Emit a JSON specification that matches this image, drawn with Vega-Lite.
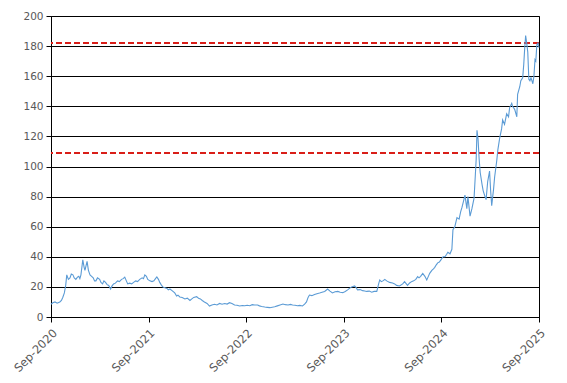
{
  "$schema": "https://vega.github.io/schema/vega-lite/v6.json",
  "width": 488,
  "height": 301,
  "autosize": "none",
  "padding": {"left": 51, "top": 16, "right": 28, "bottom": 66},
  "background": "white",
  "config": {
    "view": {"stroke": "black", "strokeWidth": 1},
    "axis": {"labelFont": "DejaVu Sans", "labelFontSize": 10.5, "labelColor": "#595959", "domainColor": "black", "tickColor": "black", "gridColor": "black", "gridWidth": 1, "gridOpacity": 1, "tickSize": 5, "domainWidth": 1, "tickWidth": 1, "labelOverlap": false}
  },
  "datasets": {
    "price": [
      {"d":"2020-09-01","v":8.5},{"d":"2020-09-08","v":9.5},{"d":"2020-09-16","v":10},{"d":"2020-09-24","v":9.2},{"d":"2020-10-04","v":10},{"d":"2020-10-10","v":11},{"d":"2020-10-15","v":13},{"d":"2020-10-21","v":16},{"d":"2020-10-26","v":21},{"d":"2020-10-30","v":28},{"d":"2020-11-05","v":25},{"d":"2020-11-11","v":26},{"d":"2020-11-16","v":28.5},{"d":"2020-11-22","v":28},{"d":"2020-11-27","v":26},{"d":"2020-12-03","v":25},{"d":"2020-12-09","v":26.5},{"d":"2020-12-14","v":27},{"d":"2020-12-18","v":25.5},{"d":"2020-12-22","v":28},{"d":"2020-12-29","v":38},{"d":"2021-01-03","v":33},{"d":"2021-01-06","v":31},{"d":"2021-01-10","v":34},{"d":"2021-01-14","v":37},{"d":"2021-01-19","v":31},{"d":"2021-01-25","v":28},{"d":"2021-01-31","v":27},{"d":"2021-02-06","v":26},{"d":"2021-02-11","v":24},{"d":"2021-02-16","v":24},{"d":"2021-02-22","v":26},{"d":"2021-03-02","v":25},{"d":"2021-03-07","v":23},{"d":"2021-03-13","v":22},{"d":"2021-03-18","v":24},{"d":"2021-03-24","v":23},{"d":"2021-03-30","v":21.5},{"d":"2021-04-05","v":21},{"d":"2021-04-12","v":18.6},{"d":"2021-04-17","v":20.5},{"d":"2021-04-23","v":22},{"d":"2021-04-30","v":22.5},{"d":"2021-05-08","v":24},{"d":"2021-05-15","v":23.5},{"d":"2021-05-23","v":25},{"d":"2021-05-29","v":25.5},{"d":"2021-06-04","v":26.5},{"d":"2021-06-10","v":24},{"d":"2021-06-15","v":22},{"d":"2021-06-22","v":22.5},{"d":"2021-06-30","v":22},{"d":"2021-07-07","v":23},{"d":"2021-07-15","v":24},{"d":"2021-07-22","v":23.5},{"d":"2021-07-30","v":25},{"d":"2021-08-08","v":26},{"d":"2021-08-13","v":25.5},{"d":"2021-08-18","v":28},{"d":"2021-08-24","v":27},{"d":"2021-08-29","v":25},{"d":"2021-09-06","v":24},{"d":"2021-09-14","v":23.5},{"d":"2021-09-21","v":24},{"d":"2021-09-27","v":25.5},{"d":"2021-10-02","v":26.6},{"d":"2021-10-08","v":25},{"d":"2021-10-13","v":23},{"d":"2021-10-18","v":21.5},{"d":"2021-10-24","v":20},{"d":"2021-11-01","v":19.5},{"d":"2021-11-09","v":19},{"d":"2021-11-14","v":18},{"d":"2021-11-20","v":18.6},{"d":"2021-11-28","v":17.5},{"d":"2021-12-08","v":16},{"d":"2021-12-15","v":14},{"d":"2021-12-20","v":14.5},{"d":"2021-12-27","v":13.3},{"d":"2022-01-05","v":13},{"d":"2022-01-15","v":12},{"d":"2022-01-24","v":12.5},{"d":"2022-02-03","v":11},{"d":"2022-02-10","v":12},{"d":"2022-02-17","v":13},{"d":"2022-02-28","v":13.5},{"d":"2022-03-07","v":12.5},{"d":"2022-03-14","v":12},{"d":"2022-03-21","v":11},{"d":"2022-03-29","v":10},{"d":"2022-04-08","v":9},{"d":"2022-04-17","v":7.3},{"d":"2022-04-26","v":8},{"d":"2022-05-06","v":8.5},{"d":"2022-05-15","v":8},{"d":"2022-05-25","v":9},{"d":"2022-06-03","v":8.5},{"d":"2022-06-13","v":9},{"d":"2022-06-22","v":8.6},{"d":"2022-07-01","v":9.5},{"d":"2022-07-10","v":9},{"d":"2022-07-20","v":8},{"d":"2022-07-29","v":7.8},{"d":"2022-08-08","v":7.3},{"d":"2022-08-18","v":7.6},{"d":"2022-08-27","v":7.5},{"d":"2022-09-05","v":7.8},{"d":"2022-09-15","v":7.5},{"d":"2022-09-24","v":8.2},{"d":"2022-10-03","v":8},{"d":"2022-10-14","v":8},{"d":"2022-10-21","v":7.4},{"d":"2022-10-29","v":7},{"d":"2022-11-10","v":6.6},{"d":"2022-11-19","v":6.4},{"d":"2022-11-29","v":6.2},{"d":"2022-12-08","v":6.5},{"d":"2022-12-17","v":6.8},{"d":"2022-12-27","v":7.4},{"d":"2023-01-06","v":8},{"d":"2023-01-17","v":8.6},{"d":"2023-01-26","v":8.2},{"d":"2023-02-05","v":8},{"d":"2023-02-14","v":8.4},{"d":"2023-02-22","v":8},{"d":"2023-03-03","v":7.8},{"d":"2023-03-12","v":7.5},{"d":"2023-03-21","v":7.7},{"d":"2023-03-31","v":7.3},{"d":"2023-04-08","v":8.5},{"d":"2023-04-15","v":10},{"d":"2023-04-21","v":13},{"d":"2023-04-26","v":14.6},{"d":"2023-05-05","v":14.2},{"d":"2023-05-15","v":15},{"d":"2023-05-24","v":15.5},{"d":"2023-06-03","v":16},{"d":"2023-06-12","v":16.5},{"d":"2023-06-22","v":17},{"d":"2023-07-03","v":18.6},{"d":"2023-07-12","v":17.2},{"d":"2023-07-21","v":16},{"d":"2023-07-31","v":16.8},{"d":"2023-08-10","v":17},{"d":"2023-08-19","v":16.5},{"d":"2023-08-29","v":16.2},{"d":"2023-09-07","v":17},{"d":"2023-09-16","v":18},{"d":"2023-09-23","v":19},{"d":"2023-10-01","v":20},{"d":"2023-10-12","v":20.6},{"d":"2023-10-18","v":19.5},{"d":"2023-10-23","v":18},{"d":"2023-11-02","v":18.2},{"d":"2023-11-11","v":17.5},{"d":"2023-11-19","v":17.3},{"d":"2023-11-26","v":17},{"d":"2023-12-06","v":17.2},{"d":"2023-12-15","v":16.5},{"d":"2023-12-24","v":17},{"d":"2024-01-03","v":17},{"d":"2024-01-10","v":22},{"d":"2024-01-14","v":24.6},{"d":"2024-01-20","v":23.5},{"d":"2024-01-26","v":24},{"d":"2024-02-02","v":25},{"d":"2024-02-09","v":24},{"d":"2024-02-20","v":23},{"d":"2024-03-02","v":22.6},{"d":"2024-03-10","v":22},{"d":"2024-03-17","v":21},{"d":"2024-03-28","v":20.6},{"d":"2024-04-09","v":22},{"d":"2024-04-16","v":23.5},{"d":"2024-04-27","v":21},{"d":"2024-05-05","v":22.6},{"d":"2024-05-12","v":23.5},{"d":"2024-05-20","v":24},{"d":"2024-05-28","v":25},{"d":"2024-06-04","v":26.8},{"d":"2024-06-09","v":26},{"d":"2024-06-15","v":27},{"d":"2024-06-23","v":29},{"d":"2024-07-01","v":27},{"d":"2024-07-08","v":24.6},{"d":"2024-07-14","v":27},{"d":"2024-07-19","v":29},{"d":"2024-07-27","v":31},{"d":"2024-08-02","v":32},{"d":"2024-08-07","v":33},{"d":"2024-08-12","v":34.5},{"d":"2024-08-18","v":36},{"d":"2024-08-24","v":36.5},{"d":"2024-08-30","v":38},{"d":"2024-09-07","v":40},{"d":"2024-09-14","v":40},{"d":"2024-09-20","v":41.5},{"d":"2024-09-25","v":43},{"d":"2024-10-03","v":42},{"d":"2024-10-10","v":45},{"d":"2024-10-14","v":58},{"d":"2024-10-21","v":60},{"d":"2024-10-29","v":66},{"d":"2024-11-06","v":65},{"d":"2024-11-12","v":70},{"d":"2024-11-17","v":73},{"d":"2024-11-24","v":78},{"d":"2024-11-28","v":81},{"d":"2024-12-05","v":72},{"d":"2024-12-09","v":80},{"d":"2024-12-17","v":67},{"d":"2024-12-24","v":72},{"d":"2025-01-01","v":79},{"d":"2025-01-06","v":95},{"d":"2025-01-09","v":105},{"d":"2025-01-12","v":124},{"d":"2025-01-16","v":118},{"d":"2025-01-20","v":105},{"d":"2025-01-24","v":96},{"d":"2025-01-31","v":88},{"d":"2025-02-04","v":84},{"d":"2025-02-11","v":80},{"d":"2025-02-15","v":78},{"d":"2025-02-21","v":90},{"d":"2025-02-28","v":97},{"d":"2025-03-04","v":84},{"d":"2025-03-08","v":74},{"d":"2025-03-15","v":85},{"d":"2025-03-19","v":93},{"d":"2025-03-27","v":104},{"d":"2025-03-31","v":111},{"d":"2025-04-07","v":119},{"d":"2025-04-14","v":125},{"d":"2025-04-18","v":131},{"d":"2025-04-25","v":128},{"d":"2025-05-03","v":135},{"d":"2025-05-10","v":133},{"d":"2025-05-14","v":139},{"d":"2025-05-22","v":142},{"d":"2025-05-25","v":140},{"d":"2025-06-02","v":138},{"d":"2025-06-10","v":133},{"d":"2025-06-13","v":148},{"d":"2025-06-21","v":153},{"d":"2025-06-25","v":157},{"d":"2025-07-02","v":159},{"d":"2025-07-06","v":168},{"d":"2025-07-09","v":177},{"d":"2025-07-13","v":187},{"d":"2025-07-17","v":182},{"d":"2025-07-21","v":176},{"d":"2025-07-25","v":158},{"d":"2025-07-29","v":157},{"d":"2025-08-02","v":159},{"d":"2025-08-09","v":155},{"d":"2025-08-13","v":160},{"d":"2025-08-17","v":171},{"d":"2025-08-20","v":170},{"d":"2025-08-24","v":181},{"d":"2025-08-28","v":182},{"d":"2025-09-01","v":179}
    ],
    "levels": [{"level": 182}, {"level": 109}]
  },
  "layer": [
    {
      "data": {"name": "levels"},
      "mark": {"type": "rule", "color": "#d91e18", "strokeWidth": 2, "strokeDash": [6, 3]},
      "encoding": {
        "y": {
          "field": "level", "type": "quantitative", "title": null,
          "scale": {"domain": [0, 200], "nice": false},
          "axis": {"values": [0, 20, 40, 60, 80, 100, 120, 140, 160, 180, 200], "grid": true, "labelPadding": 3}
        }
      }
    },
    {
      "data": {"name": "price"},
      "mark": {"type": "line", "color": "#5b9bd5", "strokeWidth": 1.1, "interpolate": "linear"},
      "encoding": {
        "x": {
          "field": "d", "type": "temporal", "title": null,
          "scale": {"type": "utc", "domain": [{"year": 2020, "month": 9, "date": 1, "utc": true}, {"year": 2025, "month": 9, "date": 1, "utc": true}], "nice": false},
          "axis": {
            "grid": false, "labelAngle": -45, "labelFontSize": 11.5,
            "labelExpr": "utcFormat(datum.value, '%b-%Y')",
            "values": [
              {"year": 2020, "month": 9, "date": 1, "utc": true},
              {"year": 2021, "month": 9, "date": 1, "utc": true},
              {"year": 2022, "month": 9, "date": 1, "utc": true},
              {"year": 2023, "month": 9, "date": 1, "utc": true},
              {"year": 2024, "month": 9, "date": 1, "utc": true},
              {"year": 2025, "month": 9, "date": 1, "utc": true}
            ],
            "labelPadding": 5
          }
        },
        "y": {
          "field": "v", "type": "quantitative", "title": null,
          "scale": {"domain": [0, 200], "nice": false},
          "axis": {"values": [0, 20, 40, 60, 80, 100, 120, 140, 160, 180, 200], "grid": true, "labelPadding": 3}
        }
      }
    }
  ]
}
